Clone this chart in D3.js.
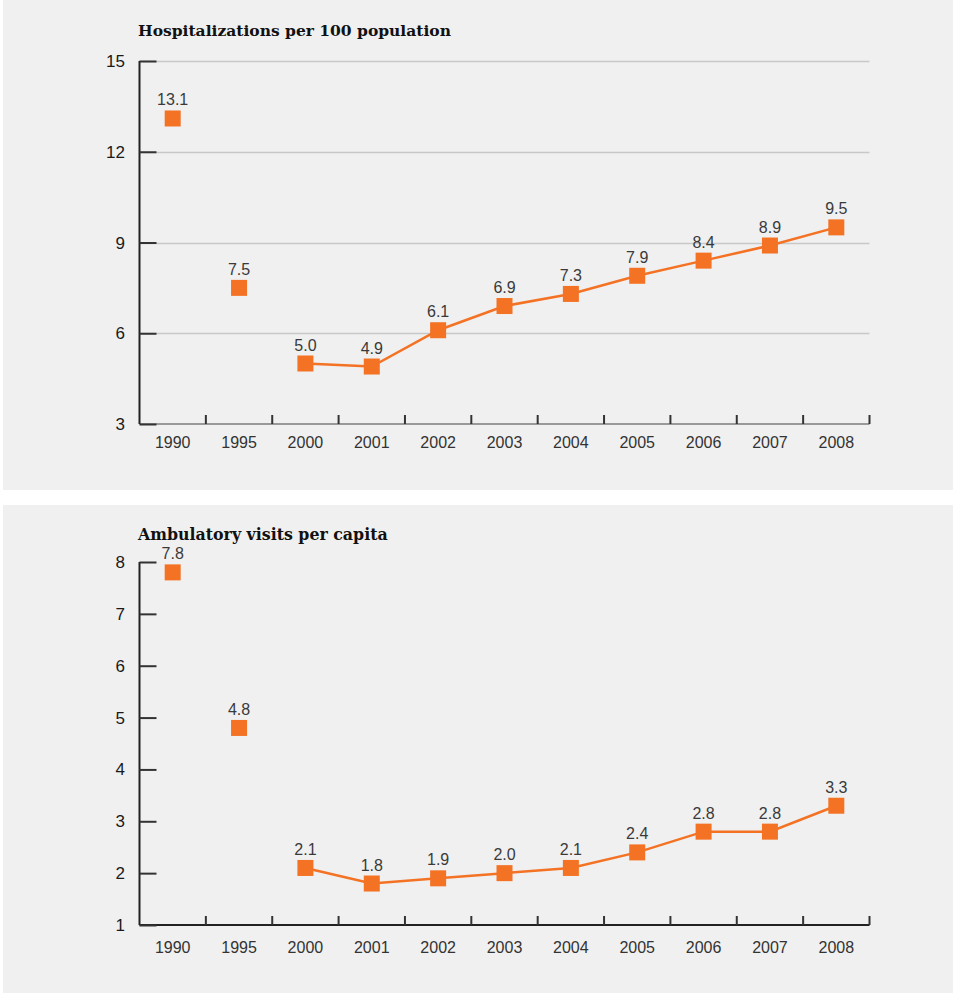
<!DOCTYPE html>
<html>
<head>
<meta charset="utf-8">
<script src="https://cdn.jsdelivr.net/npm/d3@7"></script>
<style>
  html, body { margin: 0; padding: 0; background: #fff; }
  svg { display: block; }
</style>
</head>
<body>
<svg id="chart" width="956" height="994"></svg>
<script>
// Categories shared by both panels
const years = ["1990", "1995", "2000", "2001", "2002", "2003", "2004", "2005", "2006", "2007", "2008"];

// Hospitalizations per 100 population
const hospitalizations = [13.1, 7.5, 5.0, 4.9, 6.1, 6.9, 7.3, 7.9, 8.4, 8.9, 9.5];
const hospTicks = [3, 6, 9, 12, 15];

// Ambulatory visits per capita
const ambulatory = [7.8, 4.8, 2.1, 1.8, 1.9, 2.0, 2.1, 2.4, 2.8, 2.8, 3.3];
const ambTicks = [1, 2, 3, 4, 5, 6, 7, 8];

// Annual values from 2000 on are joined by a line; earlier points stand alone
const lineStart = "2000";

const ORANGE = "#f47224";
const svg = d3.select("#chart");

function panel(opts) {
  const g = svg.append("g");
  g.append("rect")
    .attr("x", 3).attr("y", opts.top)
    .attr("width", 950).attr("height", opts.height)
    .attr("fill", "#f0f0f0");

  const x = d3.scaleBand().domain(years).range([139.5, 869.5]);
  const y = d3.scaleLinear().domain(opts.domain).range([opts.y0, opts.y1]);

  // Title
  g.append("text")
    .attr("x", 138).attr("y", opts.titleY)
    .attr("font-family", "'DejaVu Serif', serif")
    .attr("font-weight", "bold")
    .attr("font-size", opts.titleSize)
    .attr("fill", "#111")
    .text(opts.title);

  // Horizontal gridlines
  if (opts.grid) {
    g.append("g").selectAll("line")
      .data(opts.ticks.slice(1))
      .join("line")
      .attr("x1", x.range()[0]).attr("x2", x.range()[1])
      .attr("y1", d => Math.round(y(d)) + 0.5).attr("y2", d => Math.round(y(d)) + 0.5)
      .attr("stroke", "#c8c8c8").attr("stroke-width", 1.5);
  }

  // Baseline
  g.append("line")
    .attr("x1", x.range()[0]).attr("x2", x.range()[1])
    .attr("y1", opts.y0).attr("y2", opts.y0)
    .attr("stroke", opts.baseColor).attr("stroke-width", 2);

  // Y axis
  const yAxis = d3.axisRight(y).tickValues(opts.ticks).tickSize(17).tickFormat("");
  const ya = g.append("g")
    .attr("transform", `translate(${x.range()[0]},0)`)
    .call(yAxis);
  ya.select(".domain").attr("stroke", "#222").attr("stroke-width", 2)
    .attr("d", `M0,${opts.y1}V${opts.y0}`);
  ya.selectAll(".tick line").attr("stroke", "#333").attr("stroke-width", 2);

  g.append("g").selectAll("text")
    .data(opts.ticks)
    .join("text")
    .attr("x", 125).attr("y", d => y(d) + 6)
    .attr("text-anchor", "end")
    .attr("font-family", "'Liberation Sans', Arial, sans-serif")
    .attr("font-size", 17)
    .attr("fill", "#1a1a1a")
    .text(d => d);

  // X tick marks at category boundaries
  const bounds = years.slice(1).map(d => x(d)).concat([x.range()[1]]);
  g.append("g").selectAll("line")
    .data(bounds)
    .join("line")
    .attr("x1", d => d).attr("x2", d => d)
    .attr("y1", opts.y0 - 9).attr("y2", opts.y0)
    .attr("stroke", "#333").attr("stroke-width", 2);

  // X labels
  g.append("g").selectAll("text")
    .data(years)
    .join("text")
    .attr("x", d => x(d) + x.bandwidth() / 2)
    .attr("y", opts.y0 + opts.labelGap)
    .attr("text-anchor", "middle")
    .attr("font-family", "'Liberation Sans', Arial, sans-serif")
    .attr("font-size", 16)
    .attr("fill", "#333")
    .text(d => d);

  const pts = years.map((d, i) => ({ year: d, v: opts.values[i] }));
  const cx = d => x(d.year) + x.bandwidth() / 2;

  // Connecting line
  const linePts = pts.slice(years.indexOf(lineStart));
  g.append("path")
    .datum(linePts)
    .attr("fill", "none")
    .attr("stroke", ORANGE)
    .attr("stroke-width", 2.5)
    .attr("d", d3.line().x(cx).y(d => y(d.v)));

  // Square markers
  const s = 16;
  g.append("g").selectAll("rect")
    .data(pts)
    .join("rect")
    .attr("x", d => cx(d) - s / 2)
    .attr("y", d => y(d.v) - s / 2)
    .attr("width", s).attr("height", s)
    .attr("fill", ORANGE);

  // Value labels
  g.append("g").selectAll("text")
    .data(pts)
    .join("text")
    .attr("x", cx)
    .attr("y", d => y(d.v) - 13)
    .attr("text-anchor", "middle")
    .attr("font-family", "'Liberation Sans', Arial, sans-serif")
    .attr("font-size", 16)
    .attr("fill", "#3a3a3a")
    .text(d => d.v.toFixed(1));
}

panel({
  top: 0, height: 490,
  title: "Hospitalizations per 100 population", titleY: 36, titleSize: 15.5,
  domain: [3, 15], y0: 424, y1: 61,
  ticks: hospTicks, values: hospitalizations,
  grid: true, baseColor: "#999", labelGap: 24
});

panel({
  top: 505, height: 488,
  title: "Ambulatory visits per capita", titleY: 540, titleSize: 15.8,
  domain: [1, 8], y0: 925, y1: 562,
  ticks: ambTicks, values: ambulatory,
  grid: false, baseColor: "#222", labelGap: 28
});
</script>
</body>
</html>
